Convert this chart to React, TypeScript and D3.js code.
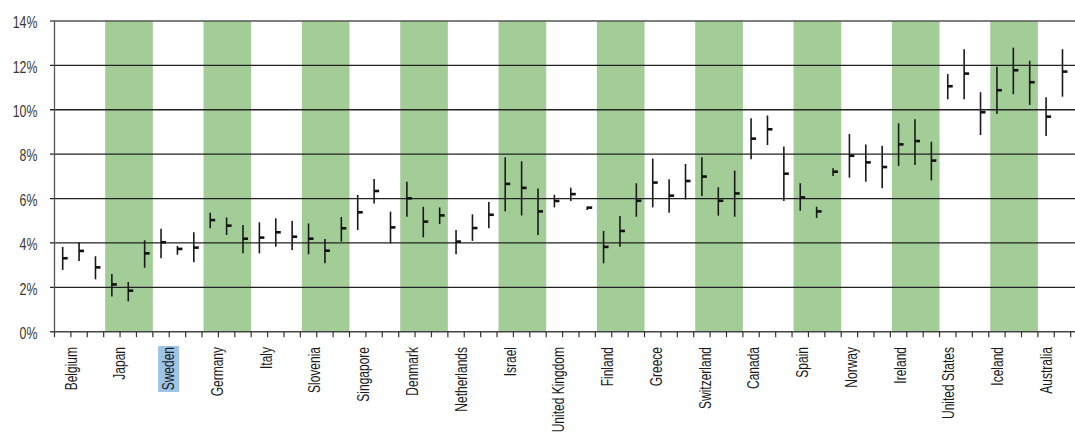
import { useEffect, useRef } from "react";
import * as d3 from "d3";

const countries = [
  "Belgium", "Japan", "Sweden", "Germany", "Italy", "Slovenia", "Singapore",
  "Denmark", "Netherlands", "Israel", "United Kingdom", "Finland", "Greece",
  "Switzerland", "Canada", "Spain", "Norway", "Ireland", "United States",
  "Iceland", "Australia",
];

// three readings per country (high / mid / low), in percent
const highValues = [
  [3.82, 4.03, 3.4], [2.6, 2.24, 4.12], [4.64, 3.86, 4.48], [5.36, 5.15, 4.81],
  [4.93, 5.11, 4.99], [4.88, 4.18, 5.17], [6.16, 6.88, 5.41], [6.76, 5.63, 5.6],
  [4.58, 5.29, 5.84], [7.86, 7.68, 6.45], [6.17, 6.49, 5.63], [4.54, 5.21, 6.69],
  [7.8, 6.87, 7.56], [7.86, 6.51, 7.26], [9.62, 9.74, 8.34], [6.69, 5.63, 7.36],
  [8.91, 8.44, 8.38], [9.39, 9.57, 8.56], [11.61, 12.73, 10.79],
  [11.94, 12.8, 12.21], [10.56, 12.73, null],
];
const midValues = [
  [3.31, 3.64, 2.9], [2.13, 1.85, 3.53], [4.03, 3.73, 3.79], [5.03, 4.78, 4.19],
  [4.24, 4.48, 4.28], [4.19, 3.65, 4.66], [5.38, 6.34, 4.7], [6.01, 4.96, 5.24],
  [4.06, 4.67, 5.27], [6.66, 6.48, 5.42], [5.89, 6.2, 5.59], [3.82, 4.54, 5.9],
  [6.72, 6.13, 6.79], [6.99, 5.9, 6.23], [8.7, 9.12, 7.12], [6.05, 5.42, 7.21],
  [7.93, 7.63, 7.42], [8.44, 8.59, 7.71], [11.06, 11.63, 9.89],
  [10.88, 11.78, 11.24], [9.69, 11.72, null],
];
const lowValues = [
  [2.78, 3.19, 2.36], [1.59, 1.37, 2.88], [3.31, 3.47, 3.13], [4.66, 4.36, 3.53],
  [3.53, 3.83, 3.68], [3.49, 3.08, 4.06], [4.58, 5.78, 3.98], [5.18, 4.25, 4.85],
  [3.49, 4.09, 4.66], [5.42, 5.24, 4.36], [5.6, 5.89, 5.48], [3.08, 3.83, 5.18],
  [5.6, 5.36, 5.96], [6.11, 5.23, 5.18], [7.77, 8.41, 5.89], [5.45, 5.12, 7.02],
  [6.94, 6.76, 6.46], [7.47, 7.51, 6.82], [10.47, 10.47, 8.86],
  [9.81, 10.7, 10.22], [8.82, 10.59, null],
];

const yTicks = [0, 2, 4, 6, 8, 10, 12, 14];
const highlighted = "Sweden";

export default function App() {
  const ref = useRef<SVGSVGElement | null>(null);

  const width = 1075;
  const height = 436;
  const font = "'Liberation Sans', Arial, sans-serif";
  const squeeze = 0.75; // fake a narrow face by compressing along the text

  useEffect(() => {
    const svg = d3.select(ref.current);
    svg.selectAll("*").remove();

    const left = 54.5;
    const slot = 16.39;
    const right = left + slot * countries.length * 3; // plot runs past the frame

    const x0 = d3.scaleBand<string>().domain(countries).range([left, right]);
    const x1 = d3
      .scaleBand<number>()
      .domain([0, 1, 2])
      .range([0, x0.bandwidth()]);
    // labels sit on their own, slightly narrower, spacing
    const xLabel = d3
      .scaleBand<string>()
      .domain(countries)
      .range([46.7, 1070.7]);
    const y = d3.scaleLinear().domain([0, 14]).range([331.7, 21]);

    // alternating green columns
    svg
      .append("g")
      .selectAll("rect")
      .data(countries.filter((_, i) => i % 2 === 1))
      .join("rect")
      .attr("x", (d) => x0(d)! + 1.5)
      .attr("y", y(14))
      .attr("width", x0.bandwidth() - 1.5)
      .attr("height", y(0) - y(14))
      .attr("fill", "#a3cd97");

    // gridlines
    svg
      .append("g")
      .selectAll("line")
      .data(yTicks.filter((t) => t > 0))
      .join("line")
      .attr("x1", 50)
      .attr("x2", width)
      .attr("y1", (d) => y(d))
      .attr("y2", (d) => y(d))
      .attr("stroke", (d) => (d === 14 ? "#555" : "#222"))
      .attr("stroke-width", 1.3);

    // y axis
    svg
      .append("line")
      .attr("x1", left)
      .attr("x2", left)
      .attr("y1", y(14))
      .attr("y2", y(0))
      .attr("stroke", "#555")
      .attr("stroke-width", 1.3);

    svg
      .append("g")
      .selectAll("text")
      .data(yTicks)
      .join("text")
      .attr("transform", (d) => `translate(37.5,${y(d) + 1.5}) scale(${squeeze},1)`)
      .attr("dy", "0.35em")
      .attr("text-anchor", "end")
      .attr("font-family", font)
      .attr("font-size", 16.5)
      .attr("fill", "#3a3632")
      .text((d) => `${d}%`);

    // x axis with a tick at each slot boundary
    svg
      .append("line")
      .attr("x1", 50)
      .attr("x2", width)
      .attr("y1", y(0))
      .attr("y2", y(0))
      .attr("stroke", "#444")
      .attr("stroke-width", 1.5);

    const bounds = d3.range(countries.length * 3 + 1).map((i) => left + i * x1.bandwidth());
    svg
      .append("g")
      .selectAll("line")
      .data(bounds)
      .join("line")
      .attr("x1", (d) => d)
      .attr("x2", (d) => d)
      .attr("y1", y(0))
      .attr("y2", y(0) + 5.5)
      .attr("stroke", "#333")
      .attr("stroke-width", 1.2);

    // high-low bars with a mid tick on the right
    const points = countries.flatMap((c, ci) =>
      [0, 1, 2]
        .filter((k) => highValues[ci][k] != null)
        .map((k) => ({
          x: x0(c)! + x1(k)! + x1.bandwidth() / 2,
          hi: highValues[ci][k] as number,
          mid: midValues[ci][k] as number,
          lo: lowValues[ci][k] as number,
        }))
    );

    const marks = svg.append("g").selectAll("g").data(points).join("g");
    marks
      .append("line")
      .attr("x1", (d) => d.x)
      .attr("x2", (d) => d.x)
      .attr("y1", (d) => y(d.hi))
      .attr("y2", (d) => y(d.lo))
      .attr("stroke", "#1a1a1a")
      .attr("stroke-width", 1.6);
    marks
      .append("line")
      .attr("x1", (d) => d.x)
      .attr("x2", (d) => d.x + 5)
      .attr("y1", (d) => y(d.mid))
      .attr("y2", (d) => y(d.mid))
      .attr("stroke", "#111")
      .attr("stroke-width", 2.6);

    // category labels
    const labels = svg.append("g");
    const hl = xLabel(highlighted)! + xLabel.bandwidth() / 2;
    labels
      .append("rect")
      .attr("x", hl - 10.5)
      .attr("y", 346)
      .attr("width", 21)
      .attr("height", 46)
      .attr("fill", "#9dc3e6");

    labels
      .selectAll("text")
      .data(countries)
      .join("text")
      .attr("transform", (d) => {
        const cx = xLabel(d)! + xLabel.bandwidth() / 2;
        return `translate(${cx},347) rotate(-90) scale(${squeeze},1)`;
      })
      .attr("dy", "0.35em")
      .attr("text-anchor", "end")
      .attr("font-family", font)
      .attr("font-size", 16)
      .attr("fill", "#1a1a1a")
      .text((d) => d);
  }, []);

  return (
    <svg
      ref={ref}
      width={width}
      height={height}
      style={{ position: "absolute", left: 0, top: 0, background: "#fff" }}
    />
  );
}
